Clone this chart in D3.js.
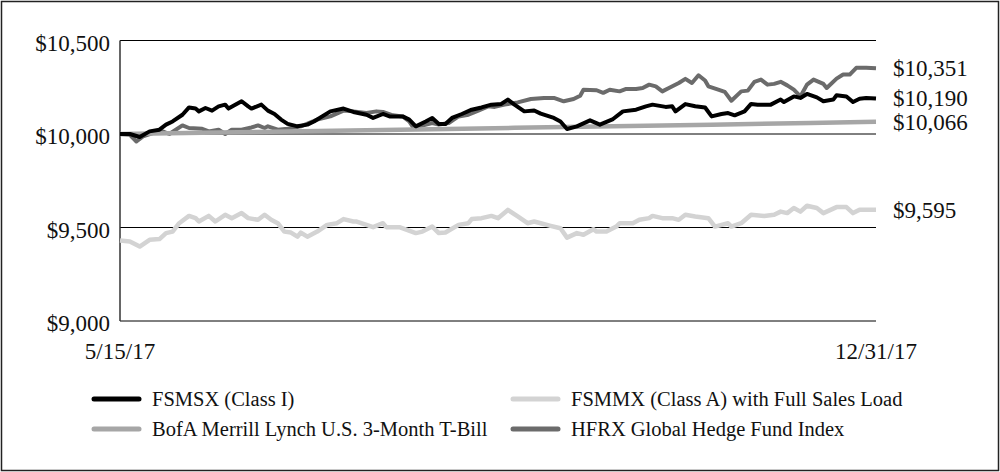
<!DOCTYPE html>
<html>
<head>
<meta charset="utf-8">
<script src="https://cdn.jsdelivr.net/npm/d3@7"></script>
<style>
  body { margin: 0; background: #fff; }
  svg text { font-family: "Liberation Serif", "DejaVu Serif", serif; fill: #111; }
</style>
</head>
<body>
<div id="chart"></div>
<script>
// growth of $10,000, points are [days since 5/15/17, value]
const startDate = new Date(2017, 4, 15);
const endDate = new Date(2017, 11, 31);

const fsmsx = [[0,10000],[3,10000],[6,9984],[9,10014],[12,10023],[14,10050],[16,10067],[19,10103],[21,10142],[23,10136],[24,10121],[26,10139],[28,10125],[30,10148],[32,10157],[33,10136],[37,10175],[39,10148],[40,10136],[43,10157],[45,10125],[47,10107],[49,10077],[51,10054],[54,10041],[57,10050],[59,10067],[64,10121],[68,10136],[71,10118],[75,10103],[77,10086],[80,10107],[82,10094],[86,10094],[88,10077],[90,10041],[93,10067],[95,10086],[97,10054],[99,10054],[101,10086],[104,10107],[107,10130],[110,10142],[113,10157],[116,10161],[118,10184],[120,10157],[123,10121],[126,10126],[128,10109],[132,10086],[134,10067],[136,10027],[139,10041],[143,10073],[146,10050],[150,10080],[153,10121],[157,10130],[160,10148],[162,10157],[166,10145],[168,10148],[169,10121],[172,10160],[175,10148],[178,10142],[180,10094],[183,10107],[185,10112],[187,10100],[190,10121],[192,10161],[194,10157],[198,10157],[201,10184],[202,10171],[205,10201],[207,10193],[209,10214],[212,10196],[214,10175],[217,10184],[218,10207],[221,10201],[223,10171],[225,10189],[227,10193],[230,10190]];

const fsmmx = [[0,9430],[3,9425],[6,9398],[9,9434],[12,9438],[14,9470],[16,9478],[18,9523],[21,9562],[23,9550],[24,9532],[27,9562],[29,9532],[32,9568],[34,9550],[37,9577],[39,9550],[42,9541],[44,9568],[46,9541],[48,9523],[50,9478],[52,9473],[54,9451],[55,9473],[57,9451],[60,9478],[63,9514],[66,9523],[68,9545],[71,9532],[72,9532],[75,9514],[77,9502],[80,9523],[81,9502],[85,9502],[90,9470],[92,9478],[95,9505],[97,9470],[99,9473],[103,9514],[106,9523],[107,9545],[110,9550],[113,9562],[115,9550],[118,9594],[121,9559],[124,9523],[126,9532],[128,9523],[131,9509],[134,9496],[136,9446],[139,9470],[141,9461],[144,9491],[145,9478],[148,9478],[151,9505],[152,9523],[156,9523],[158,9541],[161,9550],[162,9562],[165,9550],[168,9550],[170,9541],[172,9568],[175,9559],[179,9550],[181,9505],[183,9514],[185,9523],[186,9505],[189,9523],[192,9568],[196,9562],[199,9568],[201,9585],[203,9577],[205,9604],[207,9585],[209,9616],[212,9604],[214,9577],[218,9609],[221,9609],[223,9577],[225,9595],[228,9595],[230,9595]];

const tbill = [[0,10000],[30,10008],[60,10016],[90,10024],[120,10033],[150,10041],[180,10050],[210,10059],[230,10066]];

const hfrx = [[0,10000],[3,9996],[5,9960],[7,9987],[10,10005],[13,10014],[15,10000],[19,10046],[21,10032],[25,10028],[27,10014],[30,10023],[32,10000],[34,10023],[37,10023],[40,10035],[42,10046],[44,10032],[45,10041],[48,10023],[51,10028],[55,10041],[60,10077],[64,10094],[68,10125],[71,10121],[75,10112],[78,10121],[80,10118],[83,10100],[86,10094],[88,10067],[89,10041],[91,10041],[95,10059],[97,10050],[100,10059],[103,10094],[106,10103],[109,10125],[112,10148],[114,10145],[117,10157],[121,10169],[125,10187],[129,10193],[132,10193],[135,10175],[138,10187],[140,10205],[141,10237],[145,10234],[147,10220],[149,10237],[152,10228],[154,10241],[157,10241],[159,10246],[161,10264],[163,10255],[165,10228],[167,10246],[170,10273],[172,10295],[174,10273],[176,10314],[178,10286],[179,10255],[182,10237],[184,10225],[186,10178],[189,10228],[191,10232],[193,10279],[195,10291],[197,10264],[199,10268],[201,10279],[203,10260],[205,10237],[207,10201],[209,10264],[211,10291],[214,10268],[215,10246],[218,10296],[220,10318],[222,10318],[224,10354],[227,10354],[230,10351]];

const yTicks = [9000, 9500, 10000, 10500];
const xTickLabels = ["5/15/17", "12/31/17"];

const seriesNames = ["FSMSX (Class I)", "FSMMX (Class A) with Full Sales Load", "BofA Merrill Lynch U.S. 3-Month T-Bill", "HFRX Global Hedge Fund Index"];
const seriesColors = ["#000000", "#d3d3d3", "#a6a6a6", "#6b6b6b"];
const seriesWidths = [4, 4.5, 4.5, 4];
const seriesData = [fsmsx, fsmmx, tbill, hfrx];

const W = 1000, H = 472;
const plot = { left: 120, right: 876, top: 40.5, bottom: 321 };

const svg = d3.select("#chart").append("svg")
  .attr("width", W)
  .attr("height", H);

// outer frame
svg.append("rect")
  .attr("x", 1.5).attr("y", 1.5)
  .attr("width", W - 3).attr("height", H - 3)
  .attr("fill", "none")
  .attr("stroke", "#222")
  .attr("stroke-width", 1.5);

const x = d3.scaleTime()
  .domain([startDate, endDate])
  .range([plot.left, plot.right]);

const y = d3.scaleLinear()
  .domain([9000, 10500])
  .range([plot.bottom, plot.top]);

const fmt = d3.format("$,");

// gridlines
svg.append("g")
  .selectAll("line")
  .data(yTicks)
  .enter()
  .append("line")
  .attr("x1", plot.left).attr("x2", plot.right)
  .attr("y1", d => y(d)).attr("y2", d => y(d))
  .attr("stroke", "#000")
  .attr("stroke-width", 1);

// y tick labels
svg.append("g")
  .selectAll("text")
  .data(yTicks)
  .enter()
  .append("text")
  .attr("x", plot.left - 10)
  .attr("y", d => y(d) + 10)
  .attr("text-anchor", "end")
  .style("font-size", "23px")
  .text(d => fmt(d));

// left axis
svg.append("line")
  .attr("x1", plot.left).attr("x2", plot.left)
  .attr("y1", plot.top).attr("y2", plot.bottom)
  .attr("stroke", "#333")
  .attr("stroke-width", 1.5);

// x labels at the two ends
svg.append("g")
  .selectAll("text")
  .data([startDate, endDate])
  .enter()
  .append("text")
  .attr("x", d => x(d))
  .attr("y", 359)
  .attr("text-anchor", "middle")
  .style("font-size", "23px")
  .text((d, i) => xTickLabels[i]);

const line = d3.line()
  .x(d => x(d3.timeDay.offset(startDate, d[0])))
  .y(d => y(d[1]));

// draw order: hedge fund index, t-bill, class A, class I on top
const drawOrder = [3, 2, 1, 0];
svg.append("g")
  .selectAll("path")
  .data(drawOrder)
  .enter()
  .append("path")
  .attr("d", i => line(seriesData[i]))
  .attr("fill", "none")
  .attr("stroke", i => seriesColors[i])
  .attr("stroke-width", i => seriesWidths[i])
  .attr("stroke-linejoin", "round");

// end value labels
svg.append("g")
  .selectAll("text")
  .data(seriesData)
  .enter()
  .append("text")
  .attr("x", 893)
  .attr("y", d => y(d[d.length - 1][1]) + 8)
  .style("font-size", "23px")
  .text(d => fmt(d[d.length - 1][1]));

// legend
const legendPos = [[94, 399], [513, 399], [94, 429], [513, 429]];
const legend = svg.append("g")
  .selectAll("g")
  .data(seriesNames)
  .enter()
  .append("g")
  .attr("transform", (d, i) => `translate(${legendPos[i][0]},${legendPos[i][1]})`);

legend.append("line")
  .attr("x1", 0).attr("x2", 45)
  .attr("stroke", (d, i) => seriesColors[i])
  .attr("stroke-width", 5)
  .attr("stroke-linecap", "round");

legend.append("text")
  .attr("x", 58)
  .attr("y", 7)
  .style("font-size", "20.5px")
  .text(d => d);
</script>
</body>
</html>
